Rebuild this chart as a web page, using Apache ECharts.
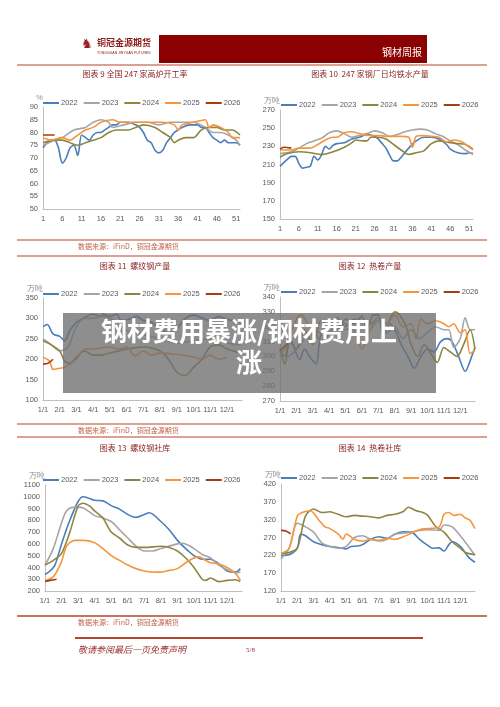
<!DOCTYPE html><html><head><meta charset="utf-8">
<script src="https://cdn.jsdelivr.net/npm/echarts@6/dist/echarts.min.js"></script>
<style>html,body{margin:0;padding:0;background:#fff}#c{width:500px;height:707px}</style></head><body><div id="c"></div>
<script>
const years=['2022','2023','2024','2025','2026'];
const colors=['#4a7ebb','#a5a5a5','#8c8640','#f7953f','#a83c0c'];
const weekLabels=Array.from({length:52},(_,i)=>String(i+1));
const monthLabels=['1/1','2/1','3/1','4/1','5/1','6/1','7/1','8/1','9/1','10/1','11/1','12/1'];
// Chart 9: blast furnace rate (week, %)
const c9_2022=[[1,74],[2,76],[3,77],[4,77],[5,74],[6,68],[7,70],[8,74],[9,75],[10,71],[11,79],[12,78],[13,77],[14,79],[15,80],[16,80],[17,81],[18,82],[19,83],[20,83],[21,84],[23,84],[25,83],[26,82],[27,80],[28,77],[29,76],[30,73],[31,72],[32,73],[33,76],[34,78],[35,80],[36,81],[37,82],[39,83],[41,83],[42,82],[43,82],[44,80],[45,78],[46,77],[47,76],[48,77],[49,76],[51,76],[52,75]];
const c9_2023=[[1,75],[4,77],[6,78],[9,81],[12,82],[14,84],[16,85],[18,84],[19,82],[22,83],[25,84],[28,84],[31,83],[34,84],[37,84],[40,84],[43,82],[45,80],[47,80],[49,79],[51,77],[52,75]];
const c9_2024=[[1,76],[4,77],[6,77],[8,76],[10,75],[12,76],[14,77],[16,78],[18,80],[20,81],[23,81],[25,82],[27,83],[30,82],[32,80],[34,78],[35,76],[36,77],[38,78],[40,78],[42,81],[44,82],[46,82],[48,81],[50,81],[52,79]];
const c9_2025=[[1,78],[3,77],[6,78],[8,77],[10,79],[12,81],[14,82],[16,84],[19,85],[21,84],[23,84],[26,84],[29,84],[32,84],[35,83],[36,81],[37,83],[40,84],[43,85],[44,82],[45,83],[47,82],[49,80],[50,78],[52,78]];
const c9_2026=[[1,79],[2,79],[4,79]];
// Chart 10: hot metal output (week, 万吨)
const c10_2022=[[1,208],[3,216],[4,219],[5,219],[6,211],[7,206],[8,207],[9,208],[10,219],[11,215],[12,221],[13,230],[14,227],[15,231],[16,233],[18,234],[20,238],[22,240],[24,243],[26,241],[27,238],[28,233],[29,228],[30,220],[31,214],[32,214],[33,218],[35,228],[37,236],[39,240],[41,240],[43,238],[45,232],[46,227],[48,223],[50,222],[51,223],[52,222]];
const c10_2023=[[1,222],[4,224],[6,228],[8,233],[10,236],[12,239],[14,245],[16,247],[18,244],[20,240],[22,242],[24,244],[26,247],[28,245],[30,241],[32,243],[34,246],[36,248],[38,249],[40,248],[42,244],[44,241],[46,236],[48,232],[50,226],[52,221]];
const c10_2024=[[1,218],[3,222],[6,224],[9,223],[12,221],[15,224],[18,229],[20,234],[21,237],[23,236],[24,236],[25,240],[27,240],[29,238],[31,232],[33,226],[35,221],[37,223],[39,225],[41,233],[43,236],[46,234],[48,233],[50,232],[52,227]];
const c10_2025=[[1,226],[4,226],[6,228],[9,228],[11,232],[13,237],[15,240],[16,240],[18,245],[20,246],[22,244],[24,242],[27,242],[29,241],[31,241],[33,241],[35,240],[36,229],[37,241],[39,242],[41,241],[43,240],[45,235],[47,237],[49,235],[51,229],[52,226]];
const c10_2026=[[1,227],[2,229],[4,228]];
// Chart 11: rebar output (month index, 万吨)
const c11_2022=[[0,280],[0.25,285],[0.6,262],[1,256],[1.3,245],[1.6,270],[2,290],[2.6,305],[3,310],[3.4,305],[3.6,310],[4,305],[4.4,310],[4.7,295],[5.3,300],[5.6,305],[6,295],[6.5,290],[7,275],[7.5,265],[8,275],[8.5,300],[9,308],[9.6,300],[10,295],[10.5,305],[11,298],[11.8,290]];
const c11_2023=[[0,250],[0.5,235],[1,220],[1.5,230],[2,280],[2.5,300],[3,300],[3.5,305],[4,300],[4.5,290],[5,270],[6,260],[7,250],[8,240],[9,245],[10,250],[11,240],[11.8,235]];
const c11_2024=[[0,245],[0.5,235],[1,220],[1.3,195],[1.6,190],[2,205],[2.5,220],[3,210],[3.5,210],[4,215],[4.5,220],[5,225],[6,230],[7,220],[7.5,200],[8,168],[8.5,160],[9,180],[9.5,200],[10,230],[10.5,235],[11,225],[11.8,215]];
const c11_2025=[[0,205],[0.4,195],[0.6,175],[1,178],[1.3,180],[2,200],[2.5,225],[3,225],[4,230],[4.5,225],[5,230],[5.5,208],[6,220],[6.5,210],[7,215],[8,212],[9,205],[9.5,200],[10,210],[10.5,200],[11,205]];
const c11_2026=[[0,188],[0.3,190],[0.6,200]];
// Chart 12: HRC output
const c12_2022=[[0,305],[0.3,300],[0.6,312],[1.2,298],[1.5,305],[1.8,300],[2.2,295],[2.5,315],[3,320],[3.5,318],[4,325],[4.5,322],[5,327],[5.3,318],[5.7,328],[6,328],[6.3,314],[6.7,322],[7,318],[7.4,308],[7.8,300],[8.2,292],[8.6,300],[9,305],[9.4,303],[9.8,310],[10.2,312],[10.5,310],[10.9,300],[11.3,290],[11.7,300],[11.9,306]];
const c12_2023=[[0,302],[0.5,300],[1,305],[1.5,312],[2,318],[2.5,310],[3,315],[3.5,322],[4,318],[4.5,320],[5,314],[5.5,318],[6,324],[6.5,316],[7,320],[7.5,312],[8,318],[8.5,312],[9,316],[9.5,320],[10,318],[10.3,318],[10.6,306],[11,312],[11.3,326],[11.6,318],[11.9,318]];
const c12_2024=[[0,305],[0.3,295],[0.6,310],[1,305],[1.5,318],[2,308],[2.5,324],[3,320],[3.5,326],[4,320],[4.5,325],[5,324],[5.5,322],[6,326],[6.5,322],[7,330],[7.3,328],[7.7,320],[8,308],[8.4,300],[8.8,308],[9.2,302],[9.6,296],[10,306],[10.4,303],[10.8,300],[11.2,308],[11.6,318],[11.9,305]];
const c12_2025=[[0,300],[0.5,310],[1,325],[1.3,328],[1.7,322],[2,318],[2.5,316],[3,322],[3.5,324],[4,322],[4.5,318],[5,305],[5.5,318],[6,326],[6.5,322],[7,328],[7.5,320],[8,322],[8.3,312],[8.6,325],[9,322],[9.5,324],[10,322],[10.3,320],[10.6,322],[11,316],[11.3,318],[11.6,302],[11.9,304]];
const c12_2026=[[0,304],[0.3,307],[0.6,310]];
// Chart 13: rebar social inventory
const c13_2022=[[0,340],[0.3,370],[0.6,420],[1,600],[1.5,800],[2,960],[2.3,1000],[2.6,990],[3,970],[3.5,965],[4,925],[4.5,895],[5,850],[5.5,825],[6,850],[6.3,865],[7,790],[7.5,720],[8,630],[8.5,560],[9,500],[9.5,470],[10,470],[10.3,450],[10.5,430],[11,370],[11.5,360],[11.8,390]];
const c13_2023=[[0,420],[0.5,560],[1,780],[1.3,880],[1.7,910],[2.2,910],[2.6,880],[3,840],[3.5,820],[4,790],[4.5,720],[5,650],[5.5,580],[6,540],[6.5,540],[7,560],[8,600],[8.3,605],[9,560],[9.5,510],[10,480],[10.5,420],[11,380],[11.5,355],[11.8,360]];
const c13_2024=[[0,420],[0.5,460],[1,520],[1.5,700],[2,920],[2.3,945],[2.7,920],[3,880],[3.5,820],[4,700],[4.5,650],[5,590],[5.5,570],[6,570],[7,580],[7.5,570],[8,540],[8.5,480],[9,400],[9.5,300],[9.7,290],[10,310],[10.5,280],[11,290],[11.5,295],[11.8,280]];
const c13_2025=[[0,290],[0.5,320],[1,450],[1.3,580],[1.8,630],[2.3,630],[3,610],[3.5,560],[4,500],[4.5,460],[5,420],[5.5,390],[6,370],[6.7,360],[7,360],[7.5,375],[8,390],[8.5,440],[9,480],[9.3,490],[9.7,460],[10,440],[10.5,430],[11,400],[11.5,350],[11.8,290]];
const c13_2026=[[0,280],[0.3,290],[0.7,300]];
// Chart 14: HRC social inventory
const c14_2022=[[0,220],[0.5,222],[1,240],[1.2,280],[1.5,275],[2,258],[2.5,250],[3,245],[3.5,242],[4,238],[4.3,245],[4.7,246],[5,250],[5.5,265],[6,272],[6.5,268],[7,280],[7.5,286],[8,285],[8.5,265],[9,248],[9.3,240],[9.7,241],[10,232],[10.3,250],[10.5,258],[11,245],[11.5,215],[11.9,200]];
const c14_2023=[[0,210],[0.5,240],[1,310],[1.5,300],[2,285],[2.5,255],[3,245],[3.5,240],[4,245],[4.5,270],[5,275],[5.5,265],[6,260],[6.5,265],[7,280],[7.5,282],[8,285],[8.5,290],[9,292],[9.7,290],[10,305],[10.5,300],[11,275],[11.5,245],[11.9,220]];
const c14_2024=[[0,225],[0.5,228],[1,240],[1.5,330],[2,350],[2.5,340],[3,342],[3.5,335],[4,328],[4.5,332],[5,330],[5.5,328],[6,325],[6.5,332],[7,335],[7.5,343],[7.8,355],[8.3,345],[8.7,340],[9,332],[9.5,300],[10,285],[10.5,258],[11,240],[11.3,228],[11.9,222]];
const c14_2025=[[0,225],[0.5,240],[1,330],[1.3,340],[1.8,345],[2.3,320],[2.7,300],[3,295],[3.5,280],[3.8,265],[4,280],[4.5,265],[5,260],[5.5,265],[6,262],[6.5,268],[7,265],[7.5,272],[8,282],[8.5,292],[9,295],[9.7,300],[10,335],[10.3,340],[10.6,332],[11,335],[11.3,325],[11.6,318],[11.9,295]];
const c14_2026=[[0,290],[0.3,288],[0.6,280]];

const charts=[
 {title:'图表 9 全国 247 家高炉开工率',unit:'%',week:true,min:50,max:90,step:5,g:{left:43,top:107,width:197,height:102},lg:[38,94],tx:135,ty:70,
  d:[c9_2022,c9_2023,c9_2024,c9_2025,c9_2026]},
 {title:'图表 10  247 家钢厂日均铁水产量',unit:'万吨',week:true,min:150,max:270,step:20,g:{left:280,top:110,width:193,height:109},lg:[276,96],tx:370,ty:70,
  d:[c10_2022,c10_2023,c10_2024,c10_2025,c10_2026]},
 {title:'图表 11  螺纹钢产量',unit:'万吨',min:100,max:350,step:50,g:{left:43,top:298,width:199,height:102},lg:[38,285],tx:135,ty:262,
  d:[c11_2022,c11_2023,c11_2024,c11_2025,c11_2026]},
 {title:'图表 12  热卷产量',unit:'万吨',min:270,max:340,step:10,g:{left:280,top:297,width:195,height:104},lg:[276,283],tx:370,ty:262,
  d:[c12_2022,c12_2023,c12_2024,c12_2025,c12_2026]},
 {title:'图表 13  螺纹钢社库',unit:'万吨',min:200,max:1100,step:100,g:{left:45,top:485,width:197,height:106},lg:[38,471],tx:135,ty:444,
  d:[c13_2022,c13_2023,c13_2024,c13_2025,c13_2026]},
 {title:'图表 14  热卷社库',unit:'万吨',min:120,max:420,step:50,g:{left:281,top:484,width:194,height:107},lg:[276,469],tx:370,ty:444,
  d:[c14_2022,c14_2023,c14_2024,c14_2025,c14_2026]}
];
const grid=[],xAxis=[],yAxis=[],series=[],legend=[],texts=[];
const lab={color:'#595959',fontSize:7.5,fontFamily:'Liberation Sans'};
const axLine={show:true,lineStyle:{color:'#bfbfbf'}};
charts.forEach((c,i)=>{
  grid.push(c.g);
  if(c.week){
    xAxis.push({gridIndex:i,type:'category',data:weekLabels,boundaryGap:false,axisTick:{show:false},axisLine:axLine,axisLabel:Object.assign({interval:4,margin:6},lab)});
  }else{
    xAxis.push({gridIndex:i,type:'value',min:0,max:11.9,interval:1,axisTick:{show:false},axisLine:axLine,splitLine:{show:false},
      axisLabel:Object.assign({showMaxLabel:false,margin:6,formatter:v=>Number.isInteger(v)?monthLabels[v]:''},lab)});
  }
  yAxis.push({gridIndex:i,type:'value',min:c.min,max:c.max,interval:c.step,name:c.unit,nameGap:5,nameLocation:'end',
    nameTextStyle:{color:'#8a8a8a',fontSize:7.5,align:'right'},axisLine:axLine,axisTick:{show:false},splitLine:{show:false},
    axisLabel:Object.assign({margin:5,formatter:v=>String(v)},lab)});
  legend.push({left:c.lg[0],top:c.lg[1],width:240,itemWidth:16,itemHeight:2,itemGap:6,icon:'rect',data:years,selectedMode:false,
    textStyle:{color:'#595959',fontSize:7.5,fontFamily:'Liberation Sans',padding:[0,0,0,-3]}});
  c.d.forEach((arr,k)=>{
    series.push({name:years[k],type:'line',xAxisIndex:i,yAxisIndex:i,showSymbol:false,smooth:0.3,
      data:c.week?arr.map(p=>[p[0]-1,p[1]]):arr,lineStyle:{width:1.6,color:colors[k]},itemStyle:{color:colors[k]},z:k===4?5:2});
  });
  texts.push({type:'text',x:c.tx,y:c.ty,style:{text:c.title,fill:'#8b2323',font:'8px "Noto Sans CJK SC"',textAlign:'center'}});
});
const red='#b5452a';
const hl=(x1,x2,y,w)=>({type:'line',shape:{x1,y1:y,x2,y2:y},style:{stroke:red,lineWidth:w||1.5}});
const src=(y)=>({type:'text',x:78,y:y,style:{text:'数据来源：iFinD，铜冠金源期货',fill:'#c0654a',font:'7px "Noto Sans CJK SC"'}});
const graphic=texts.concat([
  {type:'rect',shape:{x:159,y:35,width:268,height:28},style:{fill:'#8b0000'}},
  {type:'text',x:382,y:47,style:{text:'钢材周报',fill:'#fff',font:'10px "Noto Sans CJK SC"'}},
  {type:'text',x:97,y:38,style:{text:'铜冠金源期货',fill:'#8b1a1a',font:'bold 9px "Noto Sans CJK SC"'}},
  {type:'text',x:97,y:51,style:{text:'TONGGUAN JINYUAN FUTURES',fill:'#8b1a1a',font:'3.5px "Liberation Sans"'}},
  {type:'text',x:81,y:38,style:{text:'♞',fill:'#9b1c1c',font:'13px "DejaVu Sans"'}},
  hl(17,487,65,1.2),hl(17,487,240,1.2),src(243),hl(17,487,256,1.2),hl(17,487,424,1.2),src(427),hl(17,487,437,1.2),
  hl(17,487,616,1.5),src(619),hl(75,423,638,2),
  {type:'text',x:78,y:645,style:{text:'敬请参阅最后一页免责声明',fill:'#9b3030',font:'italic 9px "Noto Sans CJK SC"'}},
  {type:'text',x:246,y:647,style:{text:'5/8',fill:'#9b3030',font:'7px "Liberation Serif"'}},
  {type:'rect',shape:{x:63,y:313,width:373,height:80},style:{fill:'rgba(110,110,110,0.78)'},z:100},
  {type:'text',x:249,y:318,z:101,style:{text:'钢材费用暴涨/钢材费用上',fill:'#fff',font:'bold 26px "Noto Sans CJK SC"',textAlign:'center'}},
  {type:'text',x:249,y:349,z:101,style:{text:'涨',fill:'#fff',font:'bold 26px "Noto Sans CJK SC"',textAlign:'center'}}
]);
const ch=echarts.init(document.getElementById('c'),null,{renderer:'canvas'});
ch.setOption({animation:false,backgroundColor:'#fff',grid,xAxis,yAxis,series,legend,graphic});
</script></body></html>
